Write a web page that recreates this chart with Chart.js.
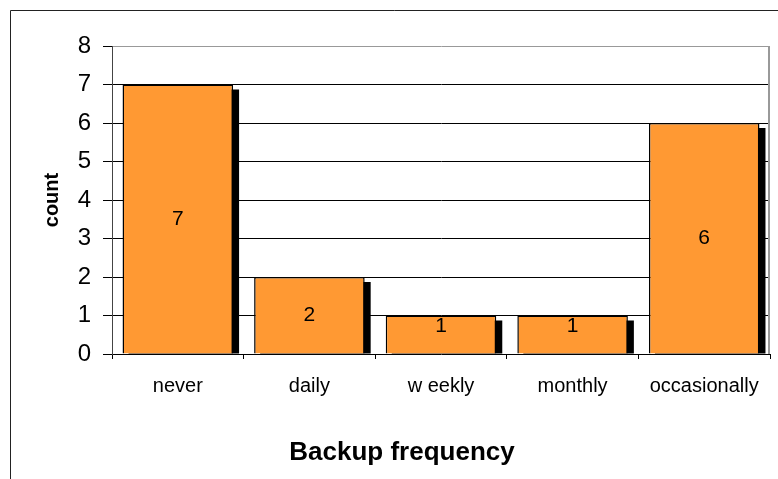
<!DOCTYPE html>
<html>
<head>
<meta charset="utf-8">
<script src="https://cdn.jsdelivr.net/npm/chart.js@4/dist/chart.umd.min.js"></script>
<style>
html, body { margin: 0; padding: 0; background: #fff; }
</style>
</head>
<body>
<canvas id="myChart" width="778" height="479"></canvas>
<script>
const categories = ['never', 'daily', 'w eekly', 'monthly', 'occasionally'];
const counts = [7, 2, 1, 1, 6];
const yMin = 0;
const yMax = 8;
const yStep = 1;

const font = '"Liberation Sans", Arial, sans-serif';

// black drop shadow, value labels and the outer frame
const excelLook = {
    id: 'excelLook',
    beforeDatasetsDraw(chart) {
        let ctx = chart.ctx;
        ctx.save();
        ctx.fillStyle = '#000';
        chart.getDatasetMeta(0).data.forEach((bar) => {
            let p = bar.getProps(['x', 'y', 'base', 'width'], true);
            ctx.fillRect(p.x - p.width / 2 + 6, p.y + 5, p.width, p.base - p.y - 5);
        });
        ctx.restore();
    },
    afterDatasetsDraw(chart) {
        let ctx = chart.ctx;
        let values = chart.data.datasets[0].data;
        ctx.save();
        ctx.fillStyle = '#000';
        ctx.font = '21px ' + font;
        ctx.textAlign = 'center';
        ctx.textBaseline = 'middle';
        chart.getDatasetMeta(0).data.forEach((bar, i) => {
            let p = bar.getProps(['x', 'y', 'base'], true);
            let y = Math.min((p.y + p.base) / 2, p.base - 27);
            ctx.fillText(String(values[i]), p.x, y);
        });
        ctx.restore();
    },
    afterDraw(chart) {
        let ctx = chart.ctx;
        let a = chart.chartArea;
        ctx.save();
        // plot area right border
        ctx.strokeStyle = '#999';
        ctx.lineWidth = 2;
        ctx.beginPath();
        ctx.moveTo(a.right - 1, a.top);
        ctx.lineTo(a.right - 1, a.bottom);
        ctx.stroke();
        // outer chart frame (left + top visible)
        ctx.strokeStyle = '#222';
        ctx.lineWidth = 1;
        ctx.beginPath();
        ctx.moveTo(10.5, chart.height);
        ctx.lineTo(10.5, 10.5);
        ctx.lineTo(chart.width, 10.5);
        ctx.stroke();
        ctx.restore();
    }
};

let ctx = document.getElementById('myChart').getContext('2d');

let myChart = new Chart(ctx, {
    type: 'bar',
    data: {
        labels: categories,
        datasets: [{
            label: 'count',
            data: counts,
            backgroundColor: '#FF9933',
            borderColor: '#000',
            borderWidth: 1.5,
            barPercentage: 0.84,
            categoryPercentage: 1
        }]
    },
    options: {
        responsive: false,
        animation: false,
        layout: {
            padding: { left: 34, top: 46, right: 8, bottom: 0 }
        },
        plugins: {
            legend: { display: false },
            tooltip: { enabled: false },
            title: {
                display: true,
                position: 'bottom',
                text: 'Backup frequency',
                color: '#000',
                padding: { top: 0, bottom: 11 },
                font: { family: font, size: 26, weight: 'bold' }
            }
        },
        scales: {
            x: {
                afterFit: (s) => { s.height = 82.8; },
                grid: {
                    offset: true,
                    drawOnChartArea: false,
                    tickLength: 5,
                    color: '#000'
                },
                border: { color: '#000', width: 1 },
                ticks: {
                    color: '#000',
                    padding: 15,
                    maxRotation: 0,
                    font: { family: font, size: 20 }
                }
            },
            y: {
                min: yMin,
                max: yMax,
                afterFit: (s) => { s.width = 78; },
                grid: {
                    tickLength: 9,
                    color: (c) => c.tick.value === yMin ? 'rgba(0,0,0,0)' : (c.tick.value === yMax ? '#999' : '#000'),
                    tickColor: '#000'
                },
                border: { color: '#444', width: 1 },
                ticks: {
                    stepSize: yStep,
                    color: '#000',
                    padding: 12,
                    font: { family: font, size: 24 }
                },
                title: {
                    display: true,
                    text: 'count',
                    color: '#000',
                    padding: { top: 6, bottom: 0 },
                    font: { family: font, size: 20, weight: 'bold' }
                }
            }
        }
    },
    plugins: [excelLook]
});
</script>
</body>
</html>
